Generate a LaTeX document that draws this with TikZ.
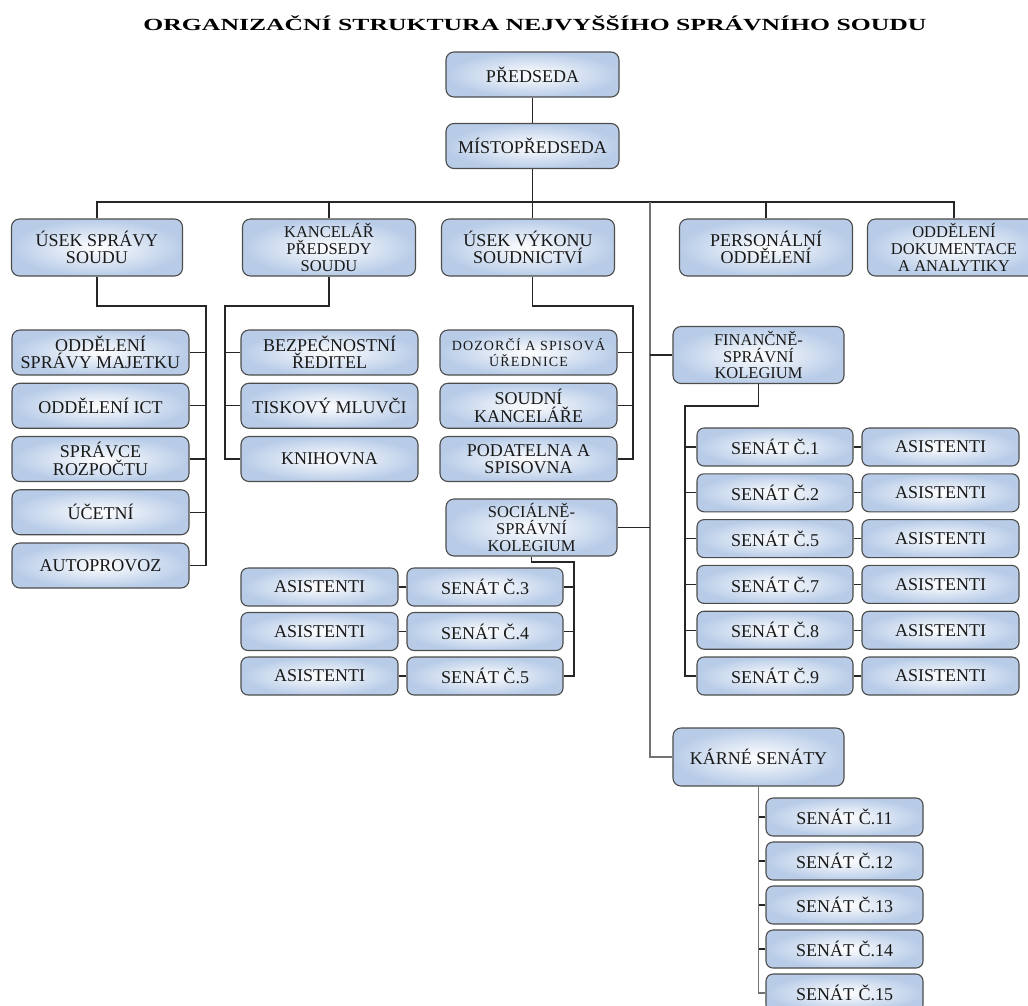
\documentclass[tikz,border=0pt]{standalone}
\usepackage{fontspec}
\setmainfont{Liberation Serif}
\usepackage{graphicx}
\definecolor{boxblue}{RGB}{184,204,232}

\begin{document}
\begin{tikzpicture}[x=1pt,y=-1pt,node distance=53.25pt,line width=1.2pt,draw=black!85,org node/.style={draw=black!70,line width=1.1pt,rounded corners=8pt,inner color=white,outer color=boxblue,minimum width=173pt,minimum height=45pt,align=center,text=black!90,font=\fontsize{18}{17.4}\selectfont},row node/.style={org node,minimum height=57pt},three node/.style={row node,inner sep=2pt,font=\fontsize{16.5}{16.8}\selectfont},small node/.style={org node,rounded corners=7pt,minimum width=157pt,minimum height=38pt}]

            \useasboundingbox (0,0) rectangle (1028,1005);

            \node[] (0) at (535,23) {\resizebox{783pt}{\height}{\bfseries\fontsize{17}{18}\selectfont ORGANIZAČNÍ STRUKTURA NEJVYŠŠÍHO SPRÁVNÍHO SOUDU}};

            \node[org node] (1) at (532.5,74.5) {PŘEDSEDA};
            \node[org node] (2) at (532.5,146) {MÍSTOPŘEDSEDA};

            \node[row node, minimum width=171pt] (3) at (97,247.5) {ÚSEK SPRÁVY\\SOUDU};
            \node[three node] (4) at (329,247.5) {KANCELÁŘ\\PŘEDSEDY\\SOUDU};
            \node[row node] (5) at (528,247.5) {ÚSEK VÝKONU\\SOUDNICTVÍ};
            \node[row node] (6) at (766,247.5) {PERSONÁLNÍ\\ODDĚLENÍ};
            \node[three node] (7) at (954,247.5) {ODDĚLENÍ\\DOKUMENTACE\\A ANALYTIKY};

            % usek spravy
            \node[org node, minimum width=177pt] (8) at (100.5,352.5) {ODDĚLENÍ\\SPRÁVY MAJETKU};
            \node[org node, minimum width=177pt] (9) [below of = 8] {ODDĚLENÍ ICT};
            \node[org node, minimum width=177pt] (10) [below of = 9] {SPRÁVCE\\ROZPOČTU};
            \node[org node, minimum width=177pt] (11) [below of = 10] {ÚČETNÍ};
            \node[org node, minimum width=177pt] (12) [below of = 11] {AUTOPROVOZ};

            % kancelar
            \node[org node, minimum width=177pt] (13) at (329.5,352.5) {BEZPEČNOSTNÍ\\ŘEDITEL};
            \node[org node, minimum width=177pt] (14) [below of = 13] {TISKOVÝ MLUVČI};
            \node[org node, minimum width=177pt] (15) [below of = 14] {KNIHOVNA};

            % usek vykonu
            \node[org node, minimum width=177pt, font=\fontsize{14}{16}\selectfont\addfontfeatures{LetterSpace=8}] (16) at (528.5,352.5) {DOZORČÍ A SPISOVÁ\\ÚŘEDNICE};
            \node[org node, minimum width=177pt] (17) [below of = 16] {SOUDNÍ\\KANCELÁŘE};
            \node[org node, minimum width=177pt] (18) [below of = 17] {PODATELNA A\\SPISOVNA};

            % socialne-spravni kolegium
            \node[three node, minimum width=171pt] (19) at (531.5,527.5) {SOCIÁLNĚ-\\SPRÁVNÍ\\KOLEGIUM};
            \node[small node, minimum width=156pt] (20) at (485,587) {SENÁT Č.3};
            \node[small node, minimum width=156pt] (21) [below of = 20, node distance=44.5pt] {SENÁT Č.4};
            \node[small node, minimum width=156pt] (22) [below of = 21, node distance=44.5pt] {SENÁT Č.5};
            \node[small node] (23) at (319.5,587) {ASISTENTI};
            \node[small node] (24) [below of = 23, node distance=44.5pt] {ASISTENTI};
            \node[small node] (25) [below of = 24, node distance=44.5pt] {ASISTENTI};

            % financne-spravni kolegium
            \node[three node, minimum width=171pt] (26) at (758.5,355) {FINANČNĚ-\\SPRÁVNÍ\\KOLEGIUM};
            \node[small node, minimum width=156pt] (27) at (775,447) {SENÁT Č.1};
            \node[small node, minimum width=156pt] (28) [below of = 27, node distance=45.8pt] {SENÁT Č.2};
            \node[small node, minimum width=156pt] (29) [below of = 28, node distance=45.8pt] {SENÁT Č.5};
            \node[small node, minimum width=156pt] (30) [below of = 29, node distance=45.8pt] {SENÁT Č.7};
            \node[small node, minimum width=156pt] (31) [below of = 30, node distance=45.8pt] {SENÁT Č.8};
            \node[small node, minimum width=156pt] (32) [below of = 31, node distance=45.8pt] {SENÁT Č.9};
            \foreach \s [evaluate=\s as \a using int(\s+6)] in {27,...,32}
                \node[small node] (\a) [right of = \s, node distance=165.5pt] {ASISTENTI};

            % karne senaty
            \node[row node, minimum width=171pt, minimum height=58pt] (39) at (758.5,757) {KÁRNÉ SENÁTY};
            \node[small node] (40) at (844.5,817) {SENÁT Č.11};
            \node[small node] (41) [below of = 40, node distance=44pt] {SENÁT Č.12};
            \node[small node] (42) [below of = 41, node distance=44pt] {SENÁT Č.13};
            \node[small node] (43) [below of = 42, node distance=44pt] {SENÁT Č.14};
            \node[small node] (44) [below of = 43, node distance=44pt] {SENÁT Č.15};

            % connectors
            \coordinate (b) at (0,202);
            \coordinate (t) at (650,202);
            \coordinate (l) at (206,306);
            \coordinate (m) at (225,306);
            \coordinate (r) at (633,306);
            \coordinate (s) at (574,562);
            \coordinate (f) at (685,406);

            \draw (1) -- (2);
            \draw (3.north) |- (7.north |- b) -- (7.north);
            \draw (2.south) -- (2.south |- 5.north);
            \foreach \n in {4,6}
                \draw (\n.north) -- (\n.north |- b);
            \draw[black!55] (t) |- (39.west);
            \draw (26.west) -- (26.west -| t);
            \draw (19.east) -- (19.east -| t);

            \draw (3.south) |- (l) -- (l |- 12.east) -- (12.east);
            \foreach \n in {8,...,11}
                \draw (\n.east) -- (\n.east -| l);
            \draw (4.south) |- (m) -- (m |- 15.west) -- (15.west);
            \foreach \n in {13,14}
                \draw (\n.west) -- (\n.west -| m);
            \draw (2.south |- 5.south) |- (r) -- (r |- 18.east) -- (18.east);
            \foreach \n in {16,17}
                \draw (\n.east) -- (\n.east -| r);
            \draw (19.south) |- (s) -- (s |- 22.east) -- (22.east);
            \foreach \n in {20,21}
                \draw (\n.east) -- (\n.east -| s);
            \foreach \n [evaluate=\n as \a using int(\n+3)] in {20,21,22}
                \draw (\a) -- (\n);
            \draw (26.south) |- (f) -- (f |- 32.west) -- (32.west);
            \foreach \n [evaluate=\n as \a using int(\n+6)] in {27,...,32}
                \draw (\n.west) -- (\n.west -| f) (\n) -- (\a);
            \draw[black!55] (39.south) -- (39.south |- 44.west) -- (44.west);
            \foreach \n in {40,...,43}
                \draw (\n.west) -- (\n.west -| 39.south);
        \end{tikzpicture}
\end{document}
